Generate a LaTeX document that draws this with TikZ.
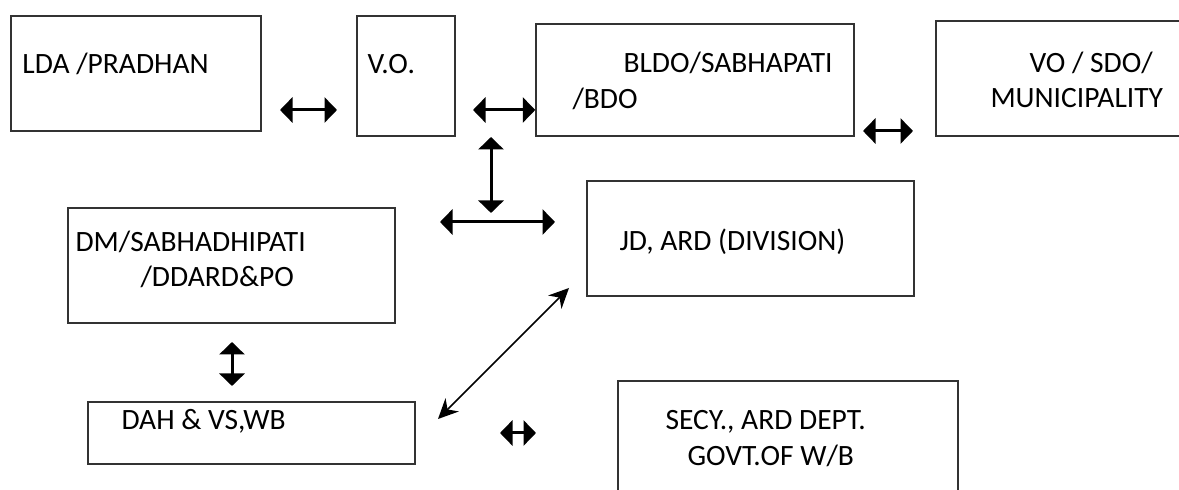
\documentclass[tikz,border=0pt]{standalone}
\usepackage{fontspec}
\setmainfont{Carlito}
\usetikzlibrary{arrows.meta,fit,calc,positioning}

\begin{document}
\begin{tikzpicture}[x=0.4pt,y=-0.4pt]
		\tikzstyle{box} = [draw=black!80,line width=0.6pt,inner sep=0pt]
		\tikzstyle{txt} = [anchor=base west,inner sep=0pt,font=\fontsize{11.8}{14}\selectfont]
		\tikzstyle{dbl} = [line width=1.2pt,{Triangle[length=5pt,width=10pt]}-{Triangle[length=5pt,width=10pt]}]
		\tikzstyle{diag} = [line width=0.65pt,{Stealth[length=8pt,width=7.5pt]}-{Stealth[length=8pt,width=7.5pt]}]
		\useasboundingbox (0,0) rectangle (1179,490);
		% Top row
		\node[box,fit={(11,16) (261,131)}] (lda) {};
		\node[txt] at (22,74) (lda_t) {LDA /PRADHAN};
		\node[box,fit={(357,16) (455,136)}] (vo) {};
		\node[txt] at (367,74) (vo_t) {V.O.};
		\node[box,fit={(536,24) (854,136)}] (bldo) {};
		\node[txt] at (623,73) (bldo_t1) {BLDO/SABHAPATI};
		\node[txt] at (572,108.5) (bldo_t2) {/BDO};
		\node[box,fit={(936,21) (1200,136)}] (sdo) {};
		\node[txt] at (1029,73) (sdo_t1) {VO / SDO/};
		\node[txt] at (990,108) (sdo_t2) {MUNICIPALITY};
		% Middle row
		\node[box,fit={(68,208) (395,323)}] (dm) {};
		\node[txt] at (75,251.5) (dm_t1) {DM/SABHADHIPATI};
		\node[txt] at (140,287) (dm_t2) {/DDARD\&PO};
		\node[box,fit={(587,181) (914,296)}] (jd) {};
		\node[txt] at (619,251) (jd_t) {JD, ARD (DIVISION)};
		% Bottom row
		\node[box,fit={(88,402) (415,464)}] (dah) {};
		\node[txt] at (121,430) (dah_t) {DAH \& VS,WB};
		\node[box,fit={(618,381) (958,510)}] (secy) {};
		\node[txt] at (665,430) (secy_t1) {SECY., ARD DEPT.};
		\node[txt] at (687,466) (secy_t2) {GOVT.OF W/B};
		% Arrows
		\coordinate (a1w) at (280,110); \coordinate (a1e) at (337,110);
		\draw[dbl] (a1w) -- (a1e);
		\coordinate (a2w) at (473,110);
		\draw[dbl] (a2w) -- (a2w -| bldo.west);
		\coordinate (a3w) at (863,131); \coordinate (a3e) at (913,131);
		\draw[dbl] (a3w) -- (a3e);
		\coordinate (a4n) at (491,137); \coordinate (a4s) at (491,213);
		\draw[dbl] (a4n) -- (a4s);
		\coordinate (a5w) at (440,222); \coordinate (a5e) at (555,222);
		\draw[dbl] (a5w) -- (a5e);
		\coordinate (a6n) at (232,342); \coordinate (a6s) at (232,386);
		\draw[dbl] (a6n) -- (a6s);
		\coordinate (a7w) at (500,433); \coordinate (a7e) at (536,433);
		\draw[dbl] (a7w) -- (a7e);
		\coordinate (a8sw) at (438,419); \coordinate (a8ne) at (569,288);
		\draw[diag] (a8sw) -- (a8ne);
\end{tikzpicture}
\end{document}
